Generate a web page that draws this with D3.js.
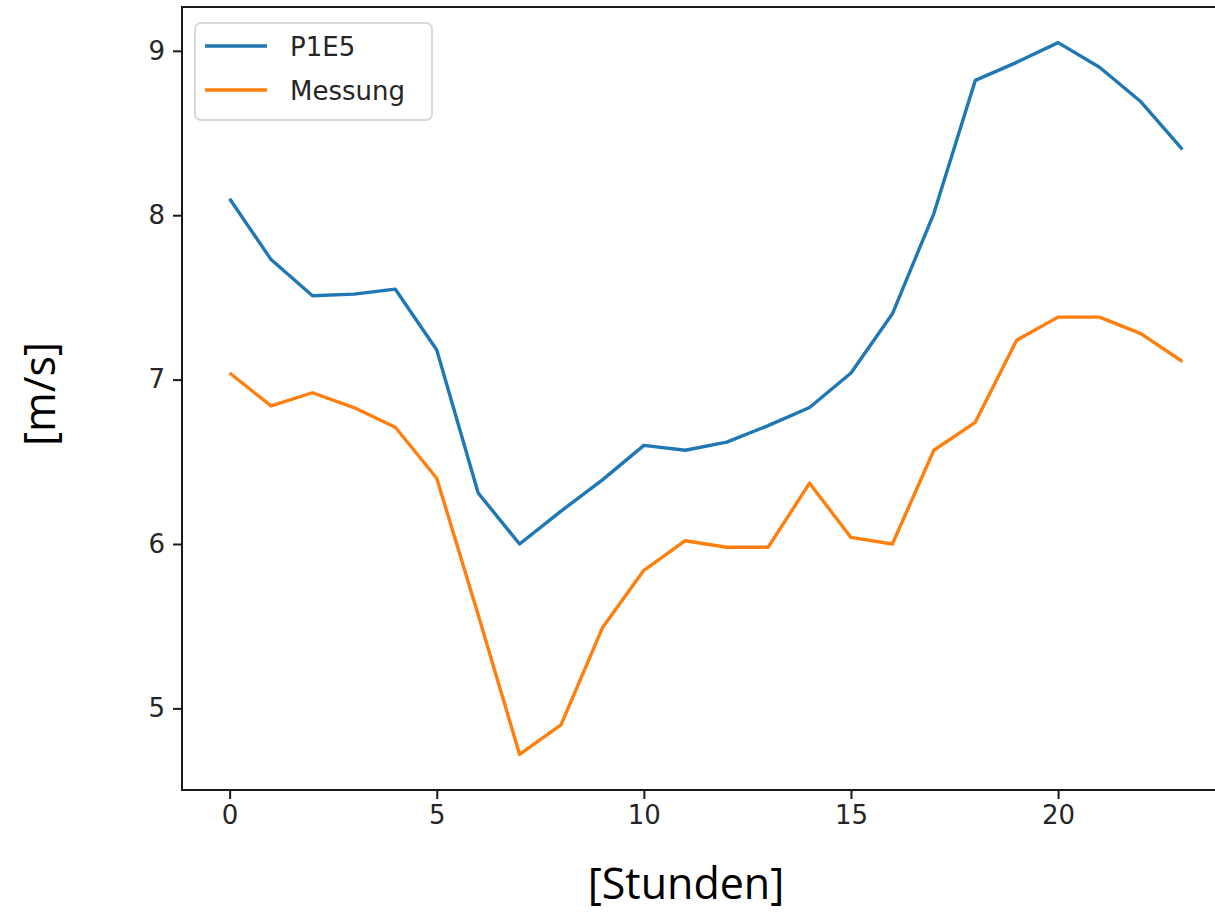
<!DOCTYPE html>
<html lang="de">
<head>
<meta charset="utf-8">
<script src="https://d3js.org/d3.v7.min.js"></script>
<title>P1E5 vs Messung</title>
<style>
  body { margin: 0; background: #fff; }
  .tick text { font-family: "DejaVu Sans", sans-serif; font-size: 26px; fill: #262626; }
  .axlabel { font-family: "Open Sans", "Noto Sans", sans-serif; font-size: 43px; fill: #000; }
  .legend text { font-family: "DejaVu Sans", sans-serif; font-size: 26px; fill: #262626; }
</style>
</head>
<body>
<svg id="chart" width="1215" height="912"></svg>
<script>
// hours 0..23
const hours = [0,1,2,3,4,5,6,7,8,9,10,11,12,13,14,15,16,17,18,19,20,21,22,23];
const p1e5 = [8.10,7.73,7.51,7.52,7.55,7.18,6.31,6.00,6.20,6.39,6.60,6.57,6.62,6.72,6.83,7.04,7.40,8.01,8.82,8.93,9.05,8.90,8.69,8.40];
const messung = [7.04,6.84,6.92,6.83,6.71,6.40,5.57,4.72,4.90,5.49,5.84,6.02,5.98,5.98,6.37,6.04,6.00,6.57,6.74,7.24,7.38,7.38,7.28,7.11];
const seriesNames = ["P1E5", "Messung"];
const seriesColors = ["#1f77b4", "#ff7f0e"];
const xTicks = [0,5,10,15,20];
const yTicks = [5,6,7,8,9];

const svg = d3.select("#chart");
const plotLeft = 182, plotRight = 1230, plotTop = 7, plotBottom = 790;

// matplotlib style 5% margins
const xPad = (d3.max(hours) - d3.min(hours)) * 0.05;
const allY = p1e5.concat(messung);
const yPad = (d3.max(allY) - d3.min(allY)) * 0.05;

const x = d3.scaleLinear()
    .domain([d3.min(hours) - xPad, d3.max(hours) + xPad])
    .range([plotLeft, plotRight]);
const y = d3.scaleLinear()
    .domain([d3.min(allY) - yPad, d3.max(allY) + yPad])
    .range([plotBottom, plotTop]);

// lines
const line = d3.line()
    .x((d, i) => x(hours[i]))
    .y(d => y(d));

[p1e5, messung].forEach(function (s, k) {
    svg.append("path")
        .datum(s)
        .attr("d", line)
        .attr("fill", "none")
        .attr("stroke", seriesColors[k])
        .attr("stroke-width", 3.4)
        .attr("stroke-linejoin", "round");
});

// frame
svg.append("rect")
    .attr("x", plotLeft).attr("y", plotTop)
    .attr("width", plotRight - plotLeft).attr("height", plotBottom - plotTop)
    .attr("fill", "none")
    .attr("stroke", "#1a1a1a")
    .attr("stroke-width", 2);

// axes
const xAxis = svg.append("g")
    .attr("transform", "translate(0," + plotBottom + ")")
    .call(d3.axisBottom(x).tickValues(xTicks).tickFormat(d3.format("d")).tickSize(9).tickPadding(7));
const yAxis = svg.append("g")
    .attr("transform", "translate(" + plotLeft + ",0)")
    .call(d3.axisLeft(y).tickValues(yTicks).tickFormat(d3.format("d")).tickSize(9).tickPadding(8));

[xAxis, yAxis].forEach(function (a) {
    a.select(".domain").remove();
    a.selectAll(".tick line").attr("stroke", "#1a1a1a").attr("stroke-width", 2);
});

// axis labels
svg.append("text")
    .attr("class", "axlabel")
    .attr("x", 686)
    .attr("y", 899)
    .attr("text-anchor", "middle")
    .text("[Stunden]");

svg.append("text")
    .attr("class", "axlabel")
    .attr("transform", "translate(55,394) rotate(-90)")
    .attr("text-anchor", "middle")
    .text("[m/s]");

// legend
const legend = svg.append("g").attr("class", "legend");
legend.append("rect")
    .attr("x", 195).attr("y", 23)
    .attr("width", 237).attr("height", 97)
    .attr("rx", 6)
    .attr("fill", "#fff")
    .attr("fill-opacity", 0.8)
    .attr("stroke", "#d9d9d9")
    .attr("stroke-width", 2);

seriesNames.forEach(function (name, i) {
    const ly = 46 + i * 44;
    legend.append("line")
        .attr("x1", 205).attr("x2", 267)
        .attr("y1", ly).attr("y2", ly)
        .attr("stroke", seriesColors[i])
        .attr("stroke-width", 3.4);
    legend.append("text")
        .attr("x", 290)
        .attr("y", ly + 10)
        .text(name);
});
</script>
</body>
</html>
